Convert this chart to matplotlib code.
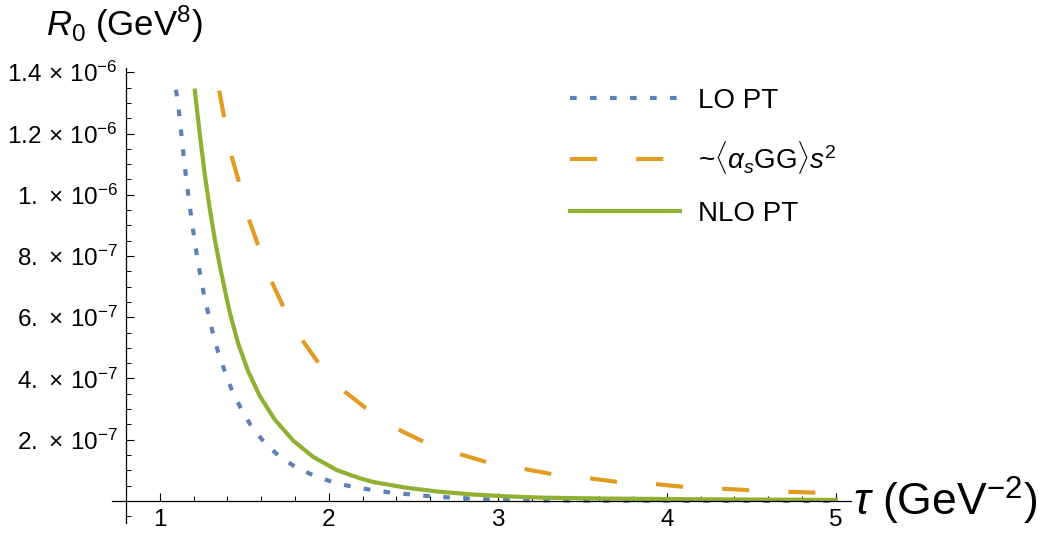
import numpy as np
import matplotlib
matplotlib.use('Agg')
from matplotlib import pyplot as plt
from matplotlib.ticker import FixedLocator, MultipleLocator, FuncFormatter

plt.rcParams['font.family'] = ['Liberation Sans', 'DejaVu Sans']
plt.rcParams['mathtext.fontset'] = 'custom'
plt.rcParams['mathtext.rm'] = 'Liberation Sans'
plt.rcParams['mathtext.it'] = 'Liberation Sans:italic'
plt.rcParams['mathtext.bf'] = 'Liberation Sans:bold'

# values, R0 in units of 1e-7 GeV^8
SCALE = 1e-7

tau_lo = [1.095, 1.099, 1.114, 1.126, 1.138, 1.152, 1.167, 1.182, 1.199, 1.217,
          1.237, 1.259, 1.286, 1.312, 1.345, 1.385, 1.424, 1.478, 1.538, 1.614,
          1.698, 1.799, 1.907, 2.020, 2.134, 2.253, 2.371, 2.489, 2.607, 2.726,
          2.844, 2.963, 3.081, 3.3, 3.6, 4.0, 4.5, 5.0]
r_lo = [13.43, 13.30, 12.67, 12.05, 11.40, 10.72, 10.05, 9.42, 8.76, 8.10,
        7.45, 6.80, 6.13, 5.52, 4.86, 4.22, 3.65, 3.04, 2.47, 1.94,
        1.50, 1.12, 0.84, 0.62, 0.47, 0.36, 0.27, 0.21, 0.15, 0.11,
        0.075, 0.045, 0.03, 0.015, 0.008, 0.004, 0.002, 0.001]

tau_nlo = [1.207, 1.237, 1.266, 1.296, 1.325, 1.355, 1.395, 1.414, 1.463, 1.522,
           1.592, 1.680, 1.789, 1.907, 2.046, 2.183, 2.262, 2.460, 2.657, 2.854,
           3.052, 3.249, 3.60, 4.195, 5.0]
r_nlo = [13.40, 11.95, 10.65, 9.52, 8.55, 7.68, 6.62, 6.15, 5.15, 4.24,
         3.42, 2.66, 1.97, 1.44, 1.01, 0.74, 0.62, 0.43, 0.30, 0.21,
         0.15, 0.11, 0.08, 0.055, 0.033]

tau_gg = [1.351, 1.380, 1.424, 1.469, 1.528, 1.582, 1.661, 1.730, 1.848, 1.937,
          2.095, 2.219, 2.410, 2.558, 2.775, 2.933, 3.160, 3.318, 3.544, 3.708,
          3.935, 4.101, 4.324, 4.491, 4.718, 4.882, 5.0]
r_gg = [13.40, 12.54, 11.27, 10.40, 9.18, 8.34, 7.17, 6.35, 5.21, 4.52,
        3.57, 3.03, 2.34, 1.94, 1.53, 1.27, 1.04, 0.88, 0.74, 0.62,
        0.55, 0.46, 0.40, 0.35, 0.30, 0.27, 0.25]

labels = ['LO PT', r'~$\langle\alpha_s\mathrm{GG}\rangle s^2$', 'NLO PT']
colors = ['#5E81B5', '#E19C24', '#8FB032']

x_major = [1, 2, 3, 4, 5]
y_major = [2e-7, 4e-7, 6e-7, 8e-7, 1e-6, 1.2e-6, 1.4e-6]


def sci_label(v, pos=None):
    e = int(np.floor(np.log10(v) + 1e-9))
    m = v / 10 ** e
    m_str = '%d.' % round(m) if abs(m - round(m)) < 1e-6 else ('%.1f' % m)
    return r'$%s\,\times\,10^{%d}$' % (m_str, e)


fig = plt.figure(figsize=(10.5, 5.36), dpi=100)
ax = fig.add_axes([0.1067, 0.02425, 0.7038, 0.8489])

lw = 3.0
ax.plot(tau_lo, np.array(r_lo) * SCALE, color=colors[0], lw=lw,
        dashes=(1.6, 3.2), dash_capstyle='butt', label=labels[0])
ax.plot(tau_gg, np.array(r_gg) * SCALE, color=colors[1], lw=lw,
        dashes=(6.5, 9.4), dash_capstyle='butt', label=labels[1])
ax.plot(tau_nlo, np.array(r_nlo) * SCALE, color=colors[2], lw=lw,
        label=labels[2])

ax.set_xlim(0.717, 5.09)
ax.set_ylim(-7.2e-8, 1.414e-6)

for s in ['top', 'right']:
    ax.spines[s].set_visible(False)
ax.spines['left'].set_position(('data', 0.8))
ax.spines['bottom'].set_position(('data', 0))
for s in ['left', 'bottom']:
    ax.spines[s].set_linewidth(0.9)

ax.xaxis.set_major_locator(FixedLocator(x_major))
ax.xaxis.set_minor_locator(MultipleLocator(0.2))
ax.yaxis.set_major_locator(FixedLocator(y_major))
ax.yaxis.set_minor_locator(MultipleLocator(5e-8))
ax.yaxis.set_major_formatter(FuncFormatter(sci_label))
ax.tick_params(which='major', direction='in', length=6, width=0.8, labelsize=17.5)
ax.tick_params(which='minor', direction='in', length=3.6, width=0.7)
ax.tick_params(axis='x', which='major', pad=6)
ax.tick_params(axis='y', which='major', pad=6)

ax.text(1.003, 0, r'$\tau$ (GeV$^{-2}$)', transform=ax.get_yaxis_transform(),
        ha='left', va='center', fontsize=32)
fig.text(46 / 1050, 1 - 36 / 536, r'$R_0$ (GeV$^8$)', ha='left', va='baseline',
         fontsize=25)

ax.legend(loc='upper left', bbox_to_anchor=(570 / 1050, 1 - 88 / 536),
          bbox_transform=fig.transFigure, frameon=False, fontsize=20,
          handlelength=3.96, handletextpad=0.65, labelspacing=0.9,
          borderpad=0, borderaxespad=0)

fig.savefig('out.png', dpi=100)
